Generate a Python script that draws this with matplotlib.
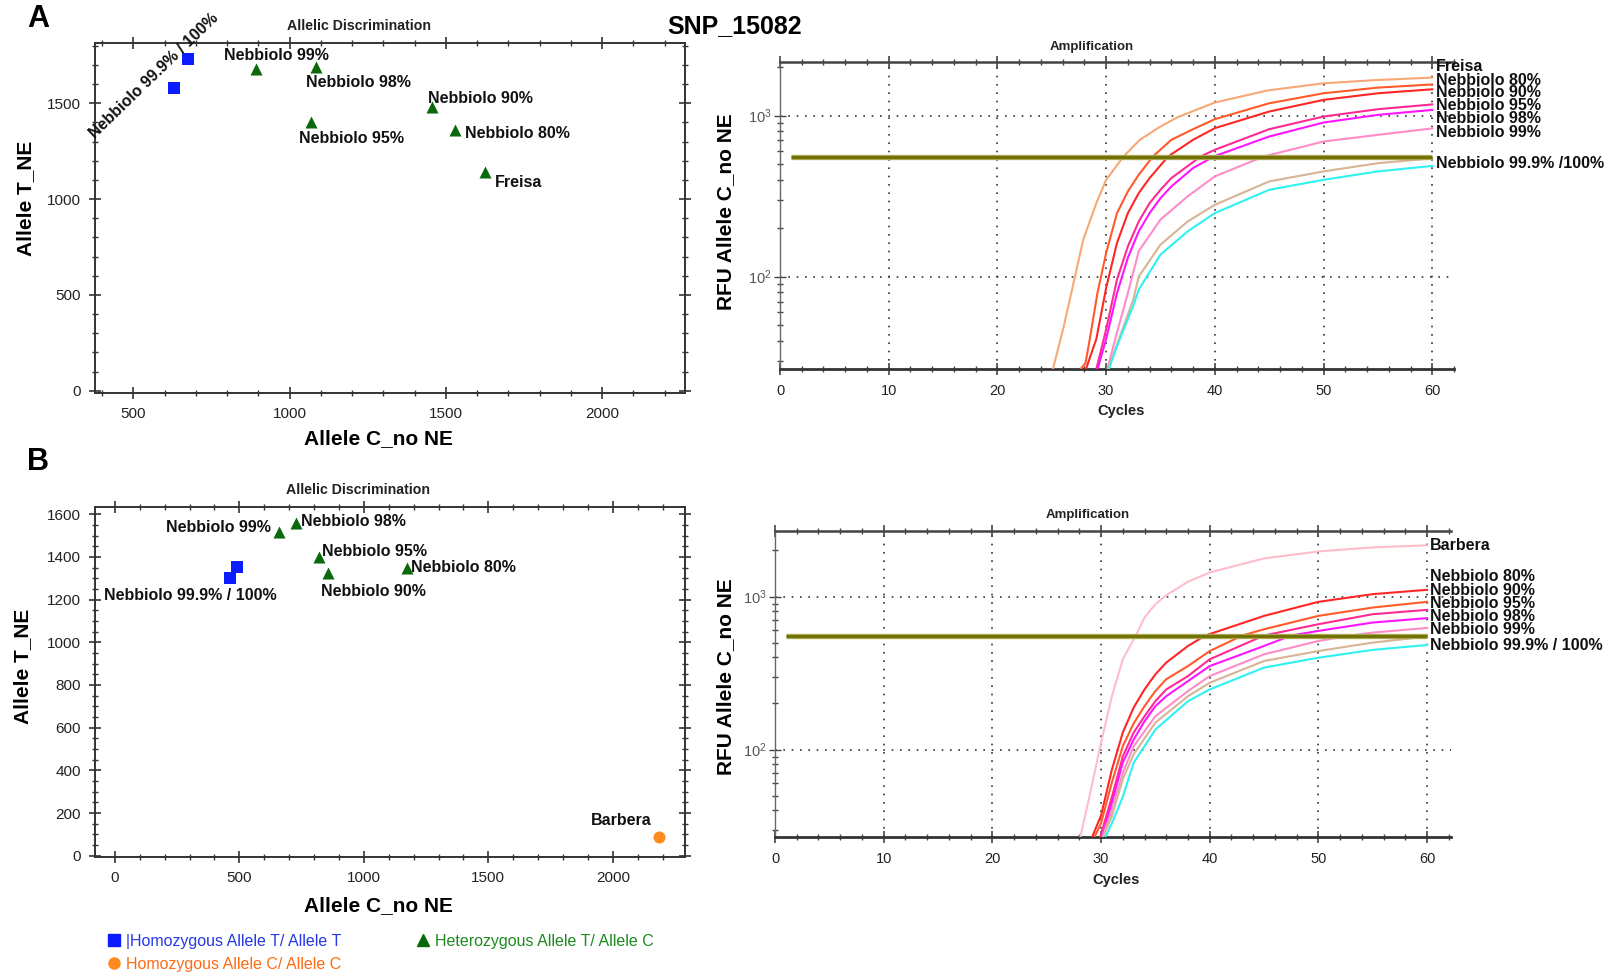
import matplotlib
matplotlib.use('Agg')
import matplotlib.pyplot as plt
from matplotlib.ticker import MultipleLocator, LogLocator, NullFormatter
from matplotlib.transforms import blended_transform_factory
from matplotlib.lines import Line2D

plt.rcParams['font.family'] = ['Liberation Sans', 'DejaVu Sans']
plt.rcParams['mathtext.fontset'] = 'custom'
plt.rcParams['mathtext.rm'] = 'Liberation Sans'

# ---------------- data: panel A, allelic discrimination ----------------
a_hom_t_x = [630, 675]
a_hom_t_y = [1580, 1733]
a_het_names = ['Nebbiolo 99%', 'Nebbiolo 98%', 'Nebbiolo 95%', 'Nebbiolo 90%', 'Nebbiolo 80%', 'Freisa']
a_het_x = [892, 1084, 1068, 1455, 1530, 1625]
a_het_y = [1676, 1690, 1400, 1482, 1362, 1141]
a_hom_t_name = 'Nebbiolo 99.9% / 100%'

# ---------------- data: panel B, allelic discrimination ----------------
b_hom_t_x = [463, 490]
b_hom_t_y = [1300, 1354]
b_het_names = ['Nebbiolo 99%', 'Nebbiolo 98%', 'Nebbiolo 95%', 'Nebbiolo 90%', 'Nebbiolo 80%']
b_het_x = [658, 726, 819, 855, 1173]
b_het_y = [1519, 1558, 1402, 1324, 1347]
b_hom_c_x = [2185]
b_hom_c_y = [90]
b_hom_t_name = 'Nebbiolo 99.9% / 100%'
b_hom_c_name = 'Barbera'

# ---------------- data: panel A, amplification (cycles, RFU) ----------------
a_freisa_cyc = [25.0, 26.1, 27.9, 29.1, 30.0, 31.6, 33.1, 35.0, 36.5, 40, 44.8, 50, 55, 60]
a_freisa_rfu = [25, 49, 170, 286, 399, 557, 707, 855, 972, 1204, 1429, 1586, 1663, 1720]
a_n80_cyc = [27.3, 28.1, 28.5, 29.2, 30, 31, 32, 33, 34.3, 36, 38, 40, 45, 50, 55, 60]
a_n80_rfu = [25, 29, 41, 79, 140, 248, 338, 429, 557, 707, 823, 949, 1192, 1375, 1491, 1560]
a_n90_cyc = [28.0, 29.1, 30, 31, 32, 33, 34, 35.7, 38, 40, 45, 50, 55, 60]
a_n90_rfu = [25, 41, 85, 162, 248, 330, 409, 557, 707, 835, 1059, 1251, 1375, 1456]
a_n95_cyc = [29.0, 30, 31, 32, 33, 34, 35, 36, 38.7, 40, 45, 50, 55, 60]
a_n95_rfu = [25, 47, 96, 154, 220, 286, 346, 409, 557, 613, 823, 986, 1095, 1172]
a_n98_cyc = [29.1, 30, 31, 32, 33, 34, 35, 36, 38, 39.9, 45, 50, 55, 60]
a_n98_rfu = [25, 41, 79, 131, 191, 248, 307, 363, 472, 557, 741, 905, 1010, 1084]
a_n99_cyc = [30.0, 31, 32, 33, 35, 37.5, 40, 44.5, 50, 55, 60]
a_n99_rfu = [25, 45, 79, 144, 226, 315, 419, 557, 690, 759, 832]
a_n999_cyc = [30.0, 30.6, 31.5, 32.5, 33, 35, 37.5, 40, 45, 50, 55, 60]
a_n999_rfu = [25, 32, 47, 72, 100, 158, 220, 279, 390, 450, 506, 542]
a_n100_cyc = [30.1, 30.8, 31.5, 32.5, 33, 35, 37.5, 40, 45, 50, 55, 60]
a_n100_rfu = [25, 34, 45, 66, 83, 137, 191, 248, 346, 399, 450, 487]
a_curve_names = ['Freisa', 'Nebbiolo 80%', 'Nebbiolo 90%', 'Nebbiolo 95%', 'Nebbiolo 98%',
                 'Nebbiolo 99%', 'Nebbiolo 99.9% /100%']
a_threshold_cyc = [1, 60]
a_threshold_rfu = [556, 556]

# ---------------- data: panel B, amplification (cycles, RFU) ----------------
b_barbera_cyc = [28.0, 29, 30, 31, 32, 33.2, 34, 35, 36, 38, 40, 45, 50, 55, 60]
b_barbera_rfu = [25, 52, 111, 223, 389, 556, 729, 891, 1020, 1248, 1436, 1774, 1971, 2094, 2160]
b_n80_cyc = [29.0, 30, 31, 32, 33, 34, 35, 36, 38, 39.6, 45, 50, 55, 60]
b_n80_rfu = [25, 37, 74, 129, 188, 247, 310, 370, 475, 556, 747, 923, 1036, 1106]
b_n90_cyc = [29.2, 30, 31, 32, 33, 34, 35, 36, 38, 40, 43, 45, 50, 55, 60]
b_n90_rfu = [25, 33, 61, 105, 148, 192, 241, 288, 351, 440, 556, 611, 747, 847, 923]
b_n95_cyc = [29.8, 31, 32, 33, 34, 35, 36, 38, 40, 45, 50, 55, 60]
b_n95_rfu = [25, 49, 90, 129, 165, 207, 247, 302, 389, 556, 659, 766, 818]
b_n98_cyc = [30.0, 31, 32, 33, 34, 35, 36, 38, 40, 45, 47.5, 50, 55, 60]
b_n98_rfu = [25, 45, 82, 116, 153, 192, 223, 280, 351, 475, 556, 596, 676, 722]
b_n99_cyc = [30.0, 31, 32, 33, 35, 38, 40, 45, 50, 53, 55, 60]
b_n99_rfu = [25, 40.5, 70, 105, 165, 241, 302, 419, 512, 556, 581, 623]
b_n999_cyc = [30.0, 31, 32, 33, 35, 38, 40, 45, 50, 55, 60]
b_n999_rfu = [25, 36.6, 64, 93, 150, 223, 273, 379, 440, 500, 547]
b_n100_cyc = [30.2, 31, 32, 33, 35, 38, 40, 45, 50, 55, 60]
b_n100_rfu = [25, 33, 49, 82, 135, 207, 247, 343, 398, 448, 482]
b_curve_names = ['Barbera', 'Nebbiolo 80%', 'Nebbiolo 90%', 'Nebbiolo 95%', 'Nebbiolo 98%',
                 'Nebbiolo 99%', 'Nebbiolo 99.9% / 100%']
b_threshold_cyc = [1, 60]
b_threshold_rfu = [556, 556]

# ---------------- styling ----------------
C_BLUE = '#0B1CFF'
C_GREEN = '#0A690A'
C_ORANGE = '#FF8A1E'
C_FREISA = '#F7A874'
C_ORANGERED = '#FF5A2A'
C_RED = '#FF2626'
C_DPINK = '#FF2A94'
C_MAGENTA = '#FF14FF'
C_LPINK = '#FF8CC8'
C_TAN = '#D8B496'
C_CYAN = '#2EF2F2'
C_BARBERA = '#FFBCCB'

W, H = 1619, 975
fig = plt.figure(figsize=(W / 100, H / 100), dpi=100)
fig.patch.set_facecolor('white')


def rect(l, t, r, b):
    return [l / W, 1 - b / H, (r - l) / W, (b - t) / H]


def ftext(x, y, s, **kw):
    fig.text(x / W, 1 - y / H, s, **kw)


def style_scatter(ax, xmaj, xmin, ymaj, ymin):
    ax.xaxis.set_major_locator(MultipleLocator(xmaj))
    ax.xaxis.set_minor_locator(MultipleLocator(xmin))
    ax.yaxis.set_major_locator(MultipleLocator(ymaj))
    ax.yaxis.set_minor_locator(MultipleLocator(ymin))
    ax.tick_params(which='both', top=True, right=True, direction='inout', colors='#333333')
    ax.tick_params(which='major', length=8, width=1.2, labelsize=11, pad=6, labelcolor='#222222')
    ax.tick_params(which='minor', length=5, width=1.0)
    for s in ax.spines.values():
        s.set_linewidth(1.4)
        s.set_color('#333333')


def style_amp(ax, ylim, xmax):
    ax.set_yscale('log')
    ax.set_xlim(0, xmax)
    ax.set_ylim(*ylim)
    ax.xaxis.set_major_locator(MultipleLocator(10))
    ax.xaxis.set_minor_locator(MultipleLocator(2))
    ax.yaxis.set_major_locator(LogLocator(base=10))
    ax.yaxis.set_minor_locator(LogLocator(base=10, subs=range(2, 10)))
    ax.yaxis.set_minor_formatter(NullFormatter())
    ax.tick_params(which='both', top=True, right=False, direction='inout', colors='#444444')
    ax.tick_params(axis='x', which='major', length=8, width=1.2, labelsize=10.5, pad=7, labelcolor='#222222')
    ax.tick_params(axis='x', which='minor', length=5, width=1.0)
    ax.tick_params(axis='y', which='major', length=8, width=1.0, labelsize=10.5, pad=2, labelcolor='#555555')
    ax.tick_params(axis='y', which='minor', length=5, width=1.0)
    ax.spines['right'].set_visible(False)
    ax.spines['left'].set_linewidth(1.0)
    ax.spines['left'].set_color('#666666')
    ax.spines['top'].set_linewidth(1.8)
    ax.spines['top'].set_color('#444444')
    ax.spines['bottom'].set_linewidth(2.0)
    ax.spines['bottom'].set_color('#333333')
    ax.grid(which='major', linestyle=(0, (1, 4)), color='#333333', linewidth=1.2)


def threshold(ax, cyc, rfu):
    ax.plot(cyc, rfu, color='#A8A850', lw=3.8, zorder=4, solid_capstyle='butt')
    ax.plot(cyc, rfu, color='#6F6F00', lw=2.0, zorder=5, solid_capstyle='butt')


LBL = dict(fontsize=11.5, fontweight='bold', color='#111111')

# ================= Panel A scatter =================
ax1 = fig.add_axes(rect(95, 43, 685, 393))
ax1.scatter(a_hom_t_x, a_hom_t_y, marker='s', s=75, color=C_BLUE, zorder=3, linewidths=0)
ax1.scatter(a_het_x, a_het_y, marker='^', s=75, color=C_GREEN, zorder=3, linewidths=0)
ax1.set_xlim(377, 2265)
ax1.set_ylim(-12, 1814)
style_scatter(ax1, 500, 100, 500, 100)
a_lbl_pos = [(789, 1749), (1052, 1610), (1029, 1317), (1441, 1523), (1560, 1340), (1656, 1084)]
for name, (lx, ly) in zip(a_het_names, a_lbl_pos):
    ax1.text(lx, ly, name, ha='left', va='center', **LBL)
ax1.text(567, 1645, a_hom_t_name, rotation=44, ha='center', va='center',
         rotation_mode='anchor', **LBL)

# ================= Panel B scatter =================
ax3 = fig.add_axes(rect(95, 507, 685, 857))
ax3.scatter(b_hom_t_x, b_hom_t_y, marker='s', s=75, color=C_BLUE, zorder=3, linewidths=0)
ax3.scatter(b_het_x, b_het_y, marker='^', s=75, color=C_GREEN, zorder=3, linewidths=0)
ax3.scatter(b_hom_c_x, b_hom_c_y, marker='o', s=75, color=C_ORANGE, zorder=3, linewidths=0)
ax3.set_xlim(-80, 2290)
ax3.set_ylim(-6, 1634)
style_scatter(ax3, 500, 100, 200, 50)
b_lbl_pos = [(625, 1538, 'right'), (747, 1566, 'left'), (832, 1425, 'left'),
             (828, 1236, 'left'), (1191, 1350, 'left')]
for name, (lx, ly, ha) in zip(b_het_names, b_lbl_pos):
    ax3.text(lx, ly, name, ha=ha, va='center', **LBL)
ax3.text(-45, 1221, b_hom_t_name, ha='left', va='center', **LBL)
ax3.text(1912, 164, b_hom_c_name, ha='left', va='center', **LBL)

# ================= Panel A amplification =================
ax2 = fig.add_axes(rect(780, 62, 1454, 369))
style_amp(ax2, (26.7, 2150), 62)
a_series = [(a_freisa_cyc, a_freisa_rfu, C_FREISA), (a_n80_cyc, a_n80_rfu, C_ORANGERED),
            (a_n90_cyc, a_n90_rfu, C_RED), (a_n95_cyc, a_n95_rfu, C_DPINK),
            (a_n98_cyc, a_n98_rfu, C_MAGENTA), (a_n99_cyc, a_n99_rfu, C_LPINK),
            (a_n999_cyc, a_n999_rfu, C_TAN), (a_n100_cyc, a_n100_rfu, C_CYAN)]
for cyc, rfu, col in a_series:
    ax2.plot(cyc, rfu, color=col, lw=1.5, zorder=3)
threshold(ax2, a_threshold_cyc, a_threshold_rfu)
tr2 = blended_transform_factory(ax2.transData, ax2.transAxes)
a_lbl_y = [0.986, 0.940, 0.900, 0.858, 0.817, 0.771, 0.668]
for name, yy in zip(a_curve_names, a_lbl_y):
    ax2.text(60.3, yy, name, transform=tr2, ha='left', va='center', clip_on=False, **LBL)

# ================= Panel B amplification =================
ax4 = fig.add_axes(rect(775, 531, 1451, 837))
style_amp(ax4, (26.8, 2680), 62.2)
b_series = [(b_barbera_cyc, b_barbera_rfu, C_BARBERA), (b_n80_cyc, b_n80_rfu, C_RED),
            (b_n90_cyc, b_n90_rfu, C_ORANGERED), (b_n95_cyc, b_n95_rfu, C_DPINK),
            (b_n98_cyc, b_n98_rfu, C_MAGENTA), (b_n99_cyc, b_n99_rfu, C_LPINK),
            (b_n999_cyc, b_n999_rfu, C_TAN), (b_n100_cyc, b_n100_rfu, C_CYAN)]
for cyc, rfu, col in b_series:
    ax4.plot(cyc, rfu, color=col, lw=1.5, zorder=3)
threshold(ax4, b_threshold_cyc, b_threshold_rfu)
tr4 = blended_transform_factory(ax4.transData, ax4.transAxes)
b_lbl_y = [0.951, 0.851, 0.807, 0.763, 0.722, 0.678, 0.627]
for name, yy in zip(b_curve_names, b_lbl_y):
    ax4.text(60.3, yy, name, transform=tr4, ha='left', va='center', clip_on=False, **LBL)

# ================= figure texts =================
ftext(38, 19, 'A', fontsize=22, fontweight='bold', ha='center', va='center')
ftext(38, 462, 'B', fontsize=22, fontweight='bold', ha='center', va='center')
ftext(735, 26, 'SNP_15082', fontsize=18, fontweight='bold', ha='center', va='center')
ftext(359, 26, 'Allelic Discrimination', fontsize=10.2, fontweight='bold', ha='center', va='center', color='#222222')
ftext(358, 490, 'Allelic Discrimination', fontsize=10.2, fontweight='bold', ha='center', va='center', color='#222222')
ftext(1092, 47, 'Amplification', fontsize=9.5, fontweight='bold', ha='center', va='center', color='#222222')
ftext(1088, 515, 'Amplification', fontsize=9.5, fontweight='bold', ha='center', va='center', color='#222222')
ftext(1121, 411, 'Cycles', fontsize=10.5, fontweight='bold', ha='center', va='center', color='#222222')
ftext(1116, 880, 'Cycles', fontsize=10.5, fontweight='bold', ha='center', va='center', color='#222222')
ftext(378, 439, 'Allele C_no NE', fontsize=15, fontweight='bold', ha='center', va='center')
ftext(378, 906, 'Allele C_no NE', fontsize=15, fontweight='bold', ha='center', va='center')
ftext(26, 198, 'Allele T_NE', fontsize=15, fontweight='bold', ha='center', va='center', rotation=90)
ftext(23, 666, 'Allele T_NE', fontsize=15, fontweight='bold', ha='center', va='center', rotation=90)
ftext(726, 212, 'RFU Allele C_no NE', fontsize=15, fontweight='bold', ha='center', va='center', rotation=90)
ftext(726, 677, 'RFU Allele C_no NE', fontsize=15, fontweight='bold', ha='center', va='center', rotation=90)

# ================= legend =================
h_sq = Line2D([], [], marker='s', color=C_BLUE, linestyle='none', markersize=8)
h_ci = Line2D([], [], marker='o', color=C_ORANGE, linestyle='none', markersize=8)
h_tr = Line2D([], [], marker='^', color=C_GREEN, linestyle='none', markersize=8)
leg = fig.legend([h_sq, h_ci, h_tr],
                 ['|Homozygous Allele T/ Allele T', 'Homozygous Allele C/ Allele C',
                  'Heterozygous Allele T/ Allele C'],
                 loc='upper left', bbox_to_anchor=(108 / W, 1 - 934 / H), ncol=2,
                 frameon=False, fontsize=11.5, handlelength=0.7, handletextpad=0.4,
                 columnspacing=4.8, labelspacing=0.5, borderpad=0, borderaxespad=0)
for t, c in zip(leg.get_texts(), ['#2438E8', '#FF6A14', '#1E8A1E']):
    t.set_color(c)

fig.savefig('out.png', dpi=100, facecolor='white')
